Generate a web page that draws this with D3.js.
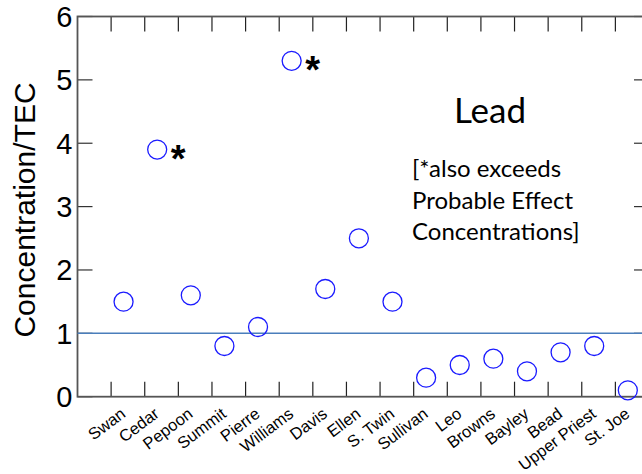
<!DOCTYPE html>
<html><head><meta charset="utf-8">
<script src="https://cdn.jsdelivr.net/npm/d3@7"></script>
<style>body{margin:0;background:#fff}svg{display:block}</style>
</head><body>
<script>
const lakes = ["Swan","Cedar","Pepoon","Summit","Pierre","Williams","Davis","Ellen","S. Twin","Sullivan","Leo","Browns","Bayley","Bead","Upper Priest","St. Joe"];
const ratio = [1.5,3.9,1.6,0.8,1.1,5.3,1.7,2.5,1.5,0.3,0.5,0.6,0.4,0.7,0.8,0.1];
const exceedsPEC = [false,true,false,false,false,true,false,false,false,false,false,false,false,false,false,false];
const yTicks = [0,1,2,3,4,5,6];
const tecLevel = 1;
const titleText = "Lead";
const noteLines = ["[*also exceeds","Probable Effect","Concentrations]"];

const W = 642, H = 474;
const L = 77.5, T = 16.5, B = 396.7, Rt = 649;
const svg = d3.select("body").append("svg").attr("width", W).attr("height", H);
const x = d3.scaleLinear().domain([0, 17]).range([L, Rt]);
const y = d3.scaleLinear().domain([0, 6]).range([B, T]);
const xOff = 1.37;
const xt = d3.range(1, 17);

const axisCol = "#555";
const tk = 15;
svg.append("g").selectAll("line").data(xt).join("line")
  .attr("x1", d => x(d)).attr("x2", d => x(d)).attr("y1", B).attr("y2", B - tk)
  .attr("stroke", "#222").attr("stroke-width", 1.2);
svg.append("g").selectAll("line").data(xt).join("line")
  .attr("x1", d => x(d)).attr("x2", d => x(d)).attr("y1", T).attr("y2", T + tk)
  .attr("stroke", "#222").attr("stroke-width", 1.2);
svg.append("g").selectAll("line").data(yTicks).join("line")
  .attr("x1", L).attr("x2", L + tk).attr("y1", d => y(d)).attr("y2", d => y(d))
  .attr("stroke", "#333").attr("stroke-width", 1.2);
svg.append("g").selectAll("line").data(yTicks).join("line")
  .attr("x1", Rt).attr("x2", Rt - tk).attr("y1", d => y(d)).attr("y2", d => y(d))
  .attr("stroke", "#333").attr("stroke-width", 1.2);

svg.append("rect").attr("x", L).attr("y", T).attr("width", Rt - L).attr("height", B - T)
  .attr("fill", "none").attr("stroke", axisCol).attr("stroke-width", 1.8);

svg.append("line").attr("x1", L).attr("x2", Rt).attr("y1", y(tecLevel)).attr("y2", y(tecLevel))
  .attr("stroke", "#4a7ebb").attr("stroke-width", 1.5);

svg.append("g").selectAll("text").data(yTicks).join("text")
  .attr("x", L - 5).attr("y", d => y(d)).attr("dy", "0.36em")
  .attr("text-anchor", "end").attr("font-family", "Liberation Sans, Arial, sans-serif")
  .attr("font-size", 29).attr("fill", "#000").text(d => d);

svg.append("text").attr("transform", `translate(35,210) rotate(-90)`)
  .attr("text-anchor", "middle").attr("font-family", "Liberation Sans, Arial, sans-serif")
  .attr("font-size", 30).attr("fill", "#000").text("Concentration/TEC");

svg.append("g").selectAll("text").data(lakes).join("text")
  .attr("transform", (d, i) => `translate(${x(i + xOff) + 3},416) rotate(-37)`)
  .attr("text-anchor", "end").attr("font-family", "Liberation Sans, Arial, sans-serif")
  .attr("font-size", 16.5).attr("fill", "#000").text(d => d);

svg.append("g").selectAll("circle").data(ratio).join("circle")
  .attr("cx", (d, i) => x(i + xOff)).attr("cy", d => y(d)).attr("r", 9.5)
  .attr("fill", "none").attr("stroke", "#1a1aff").attr("stroke-width", 1.3);

svg.append("g").selectAll("text").data(ratio.map((v, i) => ({v, i})).filter(d => exceedsPEC[d.i])).join("text")
  .attr("x", d => x(d.i + xOff) + 13.6).attr("y", d => y(d.v) + 22)
  .attr("font-family", "Liberation Sans, Arial, sans-serif").attr("font-weight", "bold")
  .attr("font-size", 38).attr("fill", "#000").text("*");

svg.append("text").attr("x", 490).attr("y", 123).attr("text-anchor", "middle")
  .attr("font-family", "Lato, 'Open Sans', sans-serif").attr("font-size", 35).attr("fill", "#000").text(titleText);
svg.append("g").selectAll("text").data(noteLines).join("text")
  .attr("x", 412).attr("y", (d, i) => 177 + i * 31.7)
  .attr("font-family", "Lato, 'Open Sans', sans-serif").attr("font-size", 24).attr("fill", "#000").text(d => d);
</script>
</body></html>
